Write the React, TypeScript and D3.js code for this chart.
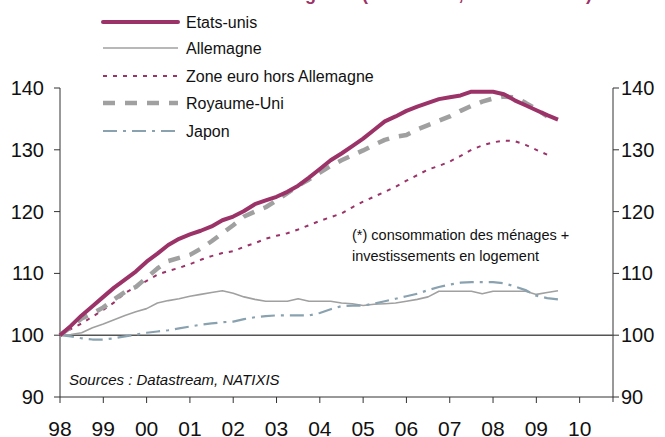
import React from "react";
import * as d3 from "d3";

const W = 665;
const H = 437;

const START_YEAR = 1998;
const yearTicks = [1998, 1999, 2000, 2001, 2002, 2003, 2004, 2005, 2006, 2007, 2008, 2009, 2010];
const yearLabels = ["98", "99", "00", "01", "02", "03", "04", "05", "06", "07", "08", "09", "10"];
const yTicks = [90, 100, 110, 120, 130, 140];

// quarterly values, 1998Q1 = 100
const etatsUnis = [
  100, 101.5, 103.2, 104.7, 106.2, 107.7, 109.0, 110.3, 111.9, 113.2, 114.6, 115.6,
  116.3, 116.9, 117.6, 118.6, 119.2, 120.1, 121.2, 121.8, 122.4, 123.2, 124.2, 125.5,
  126.9, 128.3, 129.4, 130.6, 131.8, 133.2, 134.6, 135.4, 136.3, 137.0, 137.6, 138.2,
  138.5, 138.8, 139.4, 139.4, 139.4, 139.0, 138.0, 137.2, 136.4, 135.6, 134.9,
];
const allemagne = [
  100, 100.1, 100.4, 101.2, 101.8, 102.5, 103.2, 103.8, 104.3, 105.2, 105.6, 105.9,
  106.3, 106.6, 106.9, 107.2, 106.8, 106.2, 105.8, 105.5, 105.5, 105.5, 105.9, 105.5,
  105.5, 105.5, 105.2, 105.1, 104.8, 105.0, 105.1, 105.2, 105.5, 105.8, 106.2, 107.1,
  107.1, 107.1, 107.1, 106.7, 107.1, 107.1, 107.1, 107.1, 106.6, 106.9, 107.2,
];
const zoneEuro = [
  100, 101.0, 101.9, 103.0, 104.1, 105.3, 106.8, 107.8, 108.8, 109.8, 110.4, 110.9,
  111.5, 112.2, 112.8, 113.3, 113.6, 114.3, 114.9, 115.6, 116.1, 116.5, 117.1, 117.8,
  118.5, 119.1, 119.7, 120.7, 121.6, 122.4, 123.2, 124.0, 125.0, 125.9, 126.8, 127.4,
  128.1, 129.0, 130.0, 130.7, 131.2, 131.5, 131.4, 130.8, 130.0, 129.2,
];
const royaumeUni = [
  100, 101.3, 102.7, 103.5, 104.5, 105.8, 107.0, 107.8, 109.3, 110.8, 112.0, 112.5,
  113.0, 114.0, 115.2, 116.5, 117.8, 119.2, 120.0, 120.7, 121.8, 123.0, 124.2, 125.2,
  126.3, 127.4, 128.3, 129.1, 129.9, 130.8, 131.6, 132.1, 132.4, 133.3, 134.0, 134.7,
  135.4, 136.3, 137.1, 137.8, 138.3, 138.6, 138.5, 137.6, 136.6, 135.4,
];
const japon = [
  100, 99.8, 99.5, 99.3, 99.3, 99.5, 99.8, 100.1, 100.4, 100.6, 100.8, 101.1,
  101.4, 101.7, 101.9, 102.1, 102.2, 102.6, 102.9, 103.1, 103.2, 103.2, 103.2, 103.2,
  103.6, 104.2, 104.7, 104.8, 104.8, 105.1, 105.5, 105.9, 106.3, 106.7, 107.3, 107.8,
  108.2, 108.5, 108.6, 108.6, 108.6, 108.4, 107.9, 107.3, 106.4, 106.0, 105.8,
];

const seriesNames = ["Etats-unis", "Allemagne", "Zone euro hors Allemagne", "Royaume-Uni", "Japon"];

const MAGENTA = "#9b3368";
const GREY = "#a0a0a0";
const BLUEGREY = "#8aa2b0";
const AXIS = "#333333";

const styles = [
  { color: MAGENTA, width: 4, dash: null as string | null },
  { color: GREY, width: 1.6, dash: null as string | null },
  { color: MAGENTA, width: 2, dash: "4,6" },
  { color: GREY, width: 4.5, dash: "12,10" },
  { color: BLUEGREY, width: 2.2, dash: "14,6,3,6" },
];

export default function App() {
  const x = d3.scaleLinear().domain([1998, 2010.77]).range([60, 613]);
  const y = d3.scaleLinear().domain([90, 140]).range([397, 88]);
  const allSeries = [etatsUnis, allemagne, zoneEuro, royaumeUni, japon];

  const line = d3
    .line<number>()
    .x((_, i) => x(START_YEAR + i / 4))
    .y((v) => y(v));

  const font = "'Liberation Sans', Arial, sans-serif";
  const legendY = [22, 48, 76, 103, 131];

  // draw order: lighter lines first, US on top
  const order = [1, 4, 2, 3, 0];

  return (
    <svg
      width={W}
      height={H}
      style={{ position: "absolute", left: 0, top: 0, background: "#fff" }}
      fontFamily={font}
    >
      <rect x={0} y={0} width={W} height={H} fill="#fff" />
      {/* cut-off title */}
      <g fill={MAGENTA} fontWeight="bold" fontSize={18}>
        <text x={316} y={-0.5} textAnchor="end">Demande des ménag</text>
        <text x={362} y={-0.5}>(1998 = 100,</text>
        <text x={592} y={-0.5} textAnchor="end">en volume)</text>
      </g>

      {/* axes */}
      <line x1={60} x2={60} y1={y(140)} y2={y(90)} stroke={AXIS} strokeWidth={1} />
      <line x1={613} x2={613} y1={y(140)} y2={y(90) + 5} stroke={AXIS} strokeWidth={1} />
      <line x1={60} x2={613} y1={y(90)} y2={y(90)} stroke={AXIS} strokeWidth={1} />
      {yTicks.map((t) => (
        <g key={"yt" + t}>
          <line x1={54} x2={60} y1={y(t)} y2={y(t)} stroke={AXIS} />
          <line x1={613} x2={619} y1={y(t)} y2={y(t)} stroke={AXIS} />
          <text x={44} y={y(t) + 7} textAnchor="end" fontSize={20} fill="#111">
            {t}
          </text>
          <text x={621} y={y(t) + 7} textAnchor="start" fontSize={20} fill="#111">
            {t}
          </text>
        </g>
      ))}
      {yearTicks.map((t, i) => (
        <g key={"xt" + t}>
          <line x1={x(t)} x2={x(t)} y1={y(90)} y2={y(90) + 6} stroke={AXIS} />
          <text x={x(t)} y={436} textAnchor="middle" fontSize={21} fill="#111">
            {yearLabels[i]}
          </text>
        </g>
      ))}

      {/* base 100 line */}
      <line x1={60} x2={613} y1={y(100)} y2={y(100)} stroke="#555" strokeWidth={1.5} />

      {/* series */}
      {order.map((k) => (
        <path
          key={"s" + k}
          d={line(allSeries[k]) || ""}
          fill="none"
          stroke={styles[k].color}
          strokeWidth={styles[k].width}
          strokeDasharray={styles[k].dash || undefined}
          strokeLinejoin="round"
        />
      ))}

      {/* legend */}
      {seriesNames.map((n, k) => (
        <g key={"lg" + k}>
          <line
            x1={103}
            x2={178}
            y1={legendY[k]}
            y2={legendY[k]}
            stroke={styles[k].color}
            strokeWidth={styles[k].width}
            strokeDasharray={styles[k].dash || undefined}
            strokeLinecap={k === 0 ? "round" : "butt"}
          />
          <text x={186} y={legendY[k] + 6} fontSize={16} fill="#111">
            {n}
          </text>
        </g>
      ))}

      {/* annotations */}
      <text x={352} y={240} fontSize={14.5} fill="#111">
        (*) consommation des ménages +
      </text>
      <text x={352} y={261} fontSize={14.5} fill="#111">
        investissements en logement
      </text>
      <text x={69} y={385} fontSize={15} fontStyle="italic" fill="#111">
        Sources : Datastream, NATIXIS
      </text>
    </svg>
  );
}
